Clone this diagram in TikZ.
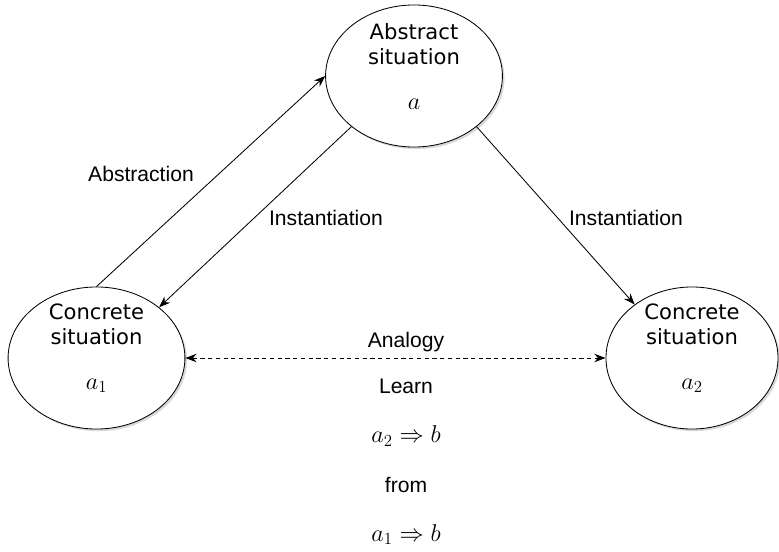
\documentclass[tikz,border=0pt]{standalone}
\usepackage{amsmath}
\usepackage{fontspec}
\setmainfont{DejaVu Sans}
\newfontfamily\lblfont{Liberation Sans}
\usepackage{tikz}
\usetikzlibrary{arrows.meta,shapes.geometric,shadows,positioning}
\newcommand{\mth}[1]{{\fontsize{18}{20}\selectfont$#1$}}
\tikzset{
    %Define standard arrow tip
    >={Stealth[length=8pt,width=6pt]},
    %Define style for situations
    situation/.style={
           ellipse,
           draw=black, line width=0.6pt,
           minimum width=4.42cm,
           minimum height=3.55cm,
           inner sep=0pt,
           fill=white,
           drop shadow={shadow xshift=1.5pt, shadow yshift=-1.5pt, opacity=0.3}
           },
    sittext/.style={
           font=\fontsize{15}{18}\selectfont,
           align=center,
           inner sep=0pt,
           yshift=7pt},
    %Define style for labels
    lbl/.style={
           font=\lblfont\fontsize{15}{18}\selectfont,
           align=center,
           inner sep=1pt},
    % Define arrow styles
    pil/.style={
           ->,
           line width=0.6pt},
    analog/.style={
           <->,
           line width=0.6pt,
           dash pattern=on 3pt off 2.5pt}
}
\begin{document}
\begin{tikzpicture}[x=0.025cm,y=-0.025cm]
\useasboundingbox (0,0) rectangle (779,552);
 %nodes
\node[situation](abs) at (414,76){};
\node[situation](con1) at (96.5,358){};
\node[situation, minimum width=4.3cm](con2) at (692,358){};
\node[sittext](abs-t) at (abs){Abstract\\situation\\[14pt]\mth{a}};
\node[sittext](con1-t) at (con1){Concrete\\situation\\[14pt]\mth{a_1}};
\node[sittext](con2-t) at (con2){Concrete\\situation\\[14pt]\mth{a_2}};
 %connectors
\draw[pil] (con1.north) -- (abs.west);
\draw[pil] (abs.219) -- (con1.39);
\draw[pil] (abs.321) -- (con2.137);
\draw[analog] (con1.east) -- (con2.west);
 %labels
\node[lbl](abstr) at (141,174){Abstraction};
\node[lbl](inst1) at (326,218){Instantiation};
\node[lbl](inst2) at (626,218){Instantiation};
\node[lbl](analogy) at (406,342){Analogy};
\node[lbl](learn) at (406,462){Learn\\[17pt]\mth{a_2 \Rightarrow b}\\[17pt]from\\[17pt]\mth{a_1 \Rightarrow b}};
\end{tikzpicture}
\end{document}
